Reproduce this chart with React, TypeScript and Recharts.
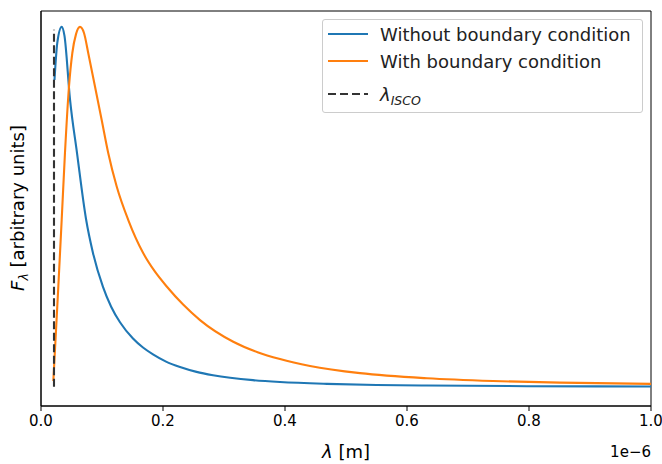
import React from 'react'
import {
  LineChart,
  Line,
  XAxis,
  YAxis,
  Legend,
  Label,
  ReferenceArea,
} from 'recharts'

// x in units of 1e-6 m, y normalised flux (arbitrary units)
const blueX = [0.0221, 0.0267, 0.0339, 0.0385, 0.0475, 0.059, 0.0738, 0.0852, 0.1016, 0.115, 0.1295, 0.1508, 0.1672, 0.1836, 0.205, 0.2279, 0.255, 0.282, 0.3475, 0.3918, 0.4689, 0.55, 0.6328, 0.7967, 1.0]
const blueY = [0.853, 0.956, 1.0, 0.975, 0.8, 0.651, 0.468, 0.374, 0.28, 0.225, 0.182, 0.137, 0.112, 0.093, 0.073, 0.058, 0.0445, 0.0352, 0.0216, 0.0164, 0.0113, 0.0083, 0.0066, 0.0049, 0.0039]

const orangeX = [0.0202, 0.0284, 0.0339, 0.0393, 0.0459, 0.0513, 0.0574, 0.0639, 0.0705, 0.0775, 0.0885, 0.0995, 0.1103, 0.1241, 0.1431, 0.1677, 0.186, 0.2061, 0.233, 0.2607, 0.3152, 0.355, 0.3918, 0.441, 0.523, 0.6328, 0.741, 0.8508, 1.0]
const orangeY = [0.019, 0.281, 0.465, 0.651, 0.835, 0.927, 0.98, 1.0, 0.983, 0.927, 0.835, 0.742, 0.65, 0.558, 0.465, 0.373, 0.324, 0.281, 0.231, 0.188, 0.128, 0.099, 0.08, 0.061, 0.041, 0.0267, 0.0191, 0.0147, 0.0114]

const iscoX = [0.0213, 0.0213]
const iscoY = [0.003, 0.992]

const xTicks = [0, 0.2, 0.4, 0.6, 0.8, 1.0]

const seriesNames = ['Without boundary condition', 'With boundary condition']
const colors = ['#1f77b4', '#ff7f0e', '#333333']

const toPoints = (xs: number[], ys: number[]) => xs.map((x, i) => ({ x, y: ys[i] }))

const blueData = toPoints(blueX, blueY)
const orangeData = toPoints(orangeX, orangeY)
const iscoData = toPoints(iscoX, iscoY)

const FONT = "'DejaVu Sans', sans-serif"
const TICK_FS = 15
const LABEL_FS = 18

const renderLegend = () => {
  const row = (top: number, handle: React.ReactNode, text: React.ReactNode, key: string) => (
    <div key={key} style={{ position: 'absolute', left: 0, top, height: 28, width: '100%', display: 'flex', alignItems: 'center' }}>
      <svg width={40} height={28} style={{ marginLeft: 5 }}>{handle}</svg>
      <span style={{ position: 'absolute', left: 57, fontFamily: FONT, fontSize: LABEL_FS, color: '#222', whiteSpace: 'nowrap' }}>{text}</span>
    </div>
  )
  return (
    <div
      style={{
        position: 'relative',
        width: 321,
        height: 94,
        boxSizing: 'border-box',
        border: '1px solid #cccccc',
        borderRadius: 3,
        background: 'rgba(255,255,255,0.8)',
      }}
    >
      {row(0, <line x1={0} x2={40} y1={14} y2={14} stroke={colors[0]} strokeWidth={2.1} />, seriesNames[0], 'a')}
      {row(27, <line x1={0} x2={40} y1={14} y2={14} stroke={colors[1]} strokeWidth={2.1} />, seriesNames[1], 'b')}
      {row(
        60,
        <line x1={0} x2={40} y1={14} y2={14} stroke={colors[2]} strokeWidth={2.1} strokeDasharray="8 4" />,
        <span>
          <span style={{ fontStyle: 'italic' }}>λ</span>
          <span style={{ fontStyle: 'italic', fontSize: 12.5, position: 'relative', top: 4 }}>ISCO</span>
        </span>,
        'c'
      )}
    </div>
  )
}

export default function App() {
  return (
    <div style={{ position: 'absolute', left: 0, top: 0, background: '#fff' }}>
      <LineChart width={662} height={464} margin={{ top: 11, right: 11, bottom: 0, left: 0 }}>
        <XAxis
          type="number"
          dataKey="x"
          domain={[0, 1]}
          ticks={xTicks}
          allowDataOverflow
          height={58}
          tickSize={5}
          tickMargin={4}
          tickFormatter={(v: number) => v.toFixed(1)}
          tick={{ fill: '#000', fontSize: TICK_FS, fontFamily: FONT }}
          axisLine={{ stroke: '#000' }}
          tickLine={{ stroke: '#000' }}
        >
          <Label
            content={() => (
              <g fontFamily={FONT} fill="#000">
                <text x={346} y={458} textAnchor="middle" fontSize={LABEL_FS}>
                  <tspan fontStyle="italic">λ</tspan>
                  <tspan> [m]</tspan>
                </text>
                <text x={651} y={457} textAnchor="end" fontSize={TICK_FS}>1e−6</text>
              </g>
            )}
          />
        </XAxis>
        <YAxis
          type="number"
          dataKey="y"
          domain={[-0.05, 1.044]}
          allowDataOverflow
          width={41}
          tick={false}
          tickLine={false}
          axisLine={{ stroke: '#000' }}
        >
          <Label
            content={() => (
              <text
                x={0}
                y={0}
                transform="translate(24, 208) rotate(-90)"
                textAnchor="middle"
                fontFamily={FONT}
                fontSize={LABEL_FS}
                fill="#000"
              >
                <tspan fontStyle="italic">F</tspan>
                <tspan fontStyle="italic" fontSize={12.5} dy={4}>λ</tspan>
                <tspan dy={-4}> [arbitrary units]</tspan>
              </text>
            )}
          />
        </YAxis>
        <ReferenceArea x1={0} x2={1} y1={-0.05} y2={1.044} fill="none" stroke="#000" strokeWidth={1} />
        <Line data={blueData} dataKey="y" type="monotone" stroke={colors[0]} strokeWidth={2.1} dot={false} isAnimationActive={false} />
        <Line data={orangeData} dataKey="y" type="monotone" stroke={colors[1]} strokeWidth={2.1} dot={false} isAnimationActive={false} />
        <Line data={iscoData} dataKey="y" type="linear" stroke={colors[2]} strokeWidth={2.1} strokeDasharray="8 3.5" dot={false} isAnimationActive={false} />
        <Legend
          layout="vertical"
          align="center"
          verticalAlign="middle"
          content={renderLegend}
          wrapperStyle={{ left: 322, top: 19, width: 321 }}
        />
      </LineChart>
    </div>
  )
}
